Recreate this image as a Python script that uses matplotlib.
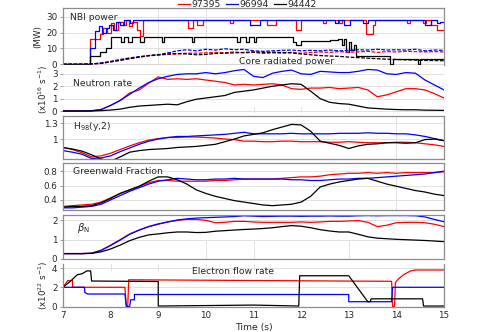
import numpy as np
import matplotlib
matplotlib.use('Agg')
import matplotlib.pyplot as plt

# =============================================================================
# DATA
# =============================================================================

shots = ['97395', '96994', '94442']
colors = ['#ff0000', '#0000ff', '#000000']

# common time base for the smooth traces (s)
t_grid = [7.0, 7.2, 7.4, 7.6, 7.8, 8.0, 8.2, 8.4, 8.6, 8.8, 9.0, 9.2, 9.4, 9.6, 9.8,
          10.0, 10.2, 10.4, 10.6, 10.8, 11.0, 11.2, 11.4, 11.6, 11.8, 12.0, 12.2, 12.4,
          12.6, 12.8, 13.0, 13.2, 13.4, 13.6, 13.8, 14.0, 14.2, 14.4, 14.6, 14.8, 15.0]

# NBI power (MW), step traces
nbi_t_97395 = [7.0, 7.57, 7.78, 7.85, 7.92, 8.0, 8.08, 8.15, 8.25, 8.32, 8.38, 8.45, 8.55, 8.62,
               8.68, 9.63, 9.73, 9.82, 9.95, 10.5, 10.58, 11.28, 11.48, 11.9, 12.0, 12.45, 12.52,
               12.8, 12.85, 13.37, 13.5, 13.55, 14.22, 14.28, 14.55, 14.62, 14.72, 14.85, 15.0]
nbi_p_97395 = [0, 16, 19, 23, 20, 26, 22, 27, 25, 28, 24, 27, 22, 18,
               28, 23, 28, 25, 28, 26, 28, 25, 28, 22, 28, 26, 28,
               26, 28, 19, 25, 28, 26, 28, 26, 28, 25, 22, 22]
nbi_t_96994 = [7.0, 7.57, 7.68, 7.75, 7.82, 7.9, 7.97, 8.05, 8.12, 8.2, 8.28, 8.4, 8.48,
               10.93, 11.13, 12.72, 12.78, 12.9, 13.02, 13.3, 13.4, 14.6, 14.72, 14.85, 14.92, 15.0]
nbi_p_96994 = [0, 10, 21, 24, 20, 23, 25, 22, 27, 25, 28, 26, 28,
               25, 28, 26, 28, 25, 28, 26, 28, 25, 28, 26, 27, 27]
nbi_t_94442 = [7.0, 7.57, 7.78, 7.9, 8.0, 8.22, 8.28, 8.37, 8.45, 8.62, 8.7, 9.07, 9.12, 9.7,
               9.76, 10.65, 10.72, 10.84, 10.9, 11.0, 11.06, 11.83, 11.9, 12.0, 12.6, 12.78,
               12.86, 12.9, 12.95, 13.0, 13.05, 13.1, 13.15, 13.87, 13.93, 14.45, 14.5, 15.0]
nbi_p_94442 = [0, 5, 8, 10, 17, 14, 17, 14, 17, 14, 17, 14, 17, 14,
               17, 14, 17, 14, 17, 14, 17, 14, 12, 14.5, 15.5, 16,
               12, 16, 8, 14, 9, 12, 5.5, 0, 3, 0, 3, 3]

# core radiated power (MW), dashed
prad_97395 = [0, 0, 0, 0.1, 0.5, 1.5, 2.5, 3.5, 4.5, 5.3, 5.8, 6.2, 6.5, 7.0, 7.0,
              7.2, 7.5, 7.3, 7.8, 7.2, 7.5, 6.8, 7.2, 7.0, 7.5, 7.0, 7.4, 7.8,
              7.5, 8.0, 7.6, 7.8, 8.2, 7.5, 8.0, 7.8, 8.2, 8.0, 7.8, 8.0, 7.8]
prad_96994 = [0, 0, 0, 0.2, 0.8, 1.8, 3.0, 4.0, 4.8, 5.5, 6.0, 7.2, 8.5, 9.2, 8.5,
              9.5, 9.0, 9.8, 9.2, 9.5, 8.5, 8.2, 8.5, 8.8, 9.0, 8.5, 8.8, 8.5,
              9.0, 8.5, 8.8, 9.2, 9.0, 9.5, 9.0, 9.2, 9.0, 9.5, 8.5, 9.0, 8.8]
prad_94442 = [0, 0, 0, 0.2, 0.6, 1.5, 2.5, 3.6, 4.5, 5.5, 6.0, 6.5, 6.8, 6.5, 6.0,
              6.2, 6.8, 7.0, 7.2, 7.5, 7.8, 7.5, 7.6, 7.4, 7.2, 6.5, 6.0, 5.5,
              5.2, 5.0, 4.5, 4.2, 3.8, 3.5, 3.2, 3.0, 2.8, 2.6, 2.4, 2.3, 2.2]

# neutron rate (x1e16 /s)
neut_97395 = [0, 0, 0, 0.02, 0.12, 0.45, 0.85, 1.45, 1.7, 2.25, 2.75, 2.55, 2.6, 2.55, 2.6,
              2.5, 2.4, 2.3, 2.1, 2.15, 2.1, 2.15, 2.2, 2.1, 1.8, 1.75, 1.85, 1.85,
              1.9, 1.8, 1.85, 1.9, 1.7, 1.15, 1.3, 1.55, 1.8, 1.8, 1.7, 1.4, 1.05]
neut_96994 = [0, 0, 0, 0.02, 0.12, 0.45, 0.85, 1.35, 1.85, 2.3, 2.6, 2.8, 2.95, 3.0, 3.0,
              3.1, 3.0, 3.1, 3.25, 3.35, 2.8, 2.7, 3.05, 3.2, 3.3, 3.0, 2.95, 3.2,
              3.15, 3.1, 3.1, 3.2, 3.35, 3.3, 3.0, 2.95, 3.1, 3.05, 2.5, 2.1, 1.7]
neut_94442 = [0, 0, 0, 0, 0.03, 0.08, 0.15, 0.3, 0.4, 0.45, 0.5, 0.55, 0.5, 0.75, 0.95,
              1.05, 1.15, 1.25, 1.5, 1.6, 1.7, 1.85, 2.0, 2.1, 2.2, 2.15, 1.6, 1.0,
              0.7, 0.6, 0.55, 0.4, 0.25, 0.2, 0.15, 0.12, 0.1, 0.1, 0.07, 0.06, 0.05]

# H98(y,2)
h98_97395 = [0.84, 0.8, 0.74, 0.66, 0.68, 0.73, 0.8, 0.87, 0.93, 0.98, 1.01, 1.03, 1.03, 1.04, 1.04,
             1.03, 1.02, 1.0, 0.99, 0.96, 0.96, 0.95, 0.95, 0.96, 0.96, 0.95, 0.95, 0.95,
             0.94, 0.94, 0.95, 0.94, 0.93, 0.93, 0.93, 0.94, 0.94, 0.93, 0.91, 0.89, 0.86]
h98_96994 = [0.78, 0.75, 0.71, 0.63, 0.64, 0.68, 0.76, 0.83, 0.9, 0.96, 1.0, 1.03, 1.05, 1.05, 1.06,
             1.07, 1.08, 1.09, 1.11, 1.13, 1.1, 1.1, 1.1, 1.1, 1.11, 1.1, 1.1, 1.1,
             1.1, 1.11, 1.11, 1.11, 1.12, 1.11, 1.11, 1.1, 1.1, 1.08, 1.05, 1.01, 0.97]
h98_94442 = [0.84, 0.81, 0.77, 0.7, 0.62, 0.58, 0.66, 0.75, 0.78, 0.8, 0.81, 0.82, 0.84, 0.85, 0.86,
             0.88, 0.9, 0.95, 1.0, 1.06, 1.09, 1.12, 1.18, 1.23, 1.28, 1.27, 1.15, 0.96,
             0.92, 0.88, 0.82, 0.87, 0.9, 0.91, 0.93, 0.93, 0.92, 0.93, 0.99, 1.0, 0.97]

# Greenwald fraction
fgw_97395 = [0.31, 0.32, 0.33, 0.34, 0.37, 0.43, 0.49, 0.54, 0.59, 0.64, 0.67, 0.67, 0.66, 0.66, 0.66,
             0.66, 0.67, 0.67, 0.68, 0.69, 0.69, 0.69, 0.69, 0.70, 0.71, 0.72, 0.72, 0.73,
             0.75, 0.76, 0.77, 0.77, 0.78, 0.77, 0.78, 0.77, 0.78, 0.78, 0.78, 0.78, 0.79]
fgw_96994 = [0.29, 0.29, 0.30, 0.31, 0.34, 0.40, 0.46, 0.52, 0.57, 0.62, 0.66, 0.68, 0.70, 0.69, 0.68,
             0.68, 0.69, 0.69, 0.70, 0.69, 0.69, 0.69, 0.69, 0.69, 0.68, 0.68, 0.67, 0.67,
             0.68, 0.69, 0.69, 0.70, 0.70, 0.71, 0.72, 0.73, 0.74, 0.75, 0.76, 0.78, 0.80]
fgw_94442 = [0.30, 0.31, 0.31, 0.32, 0.36, 0.42, 0.49, 0.54, 0.59, 0.66, 0.72, 0.72, 0.68, 0.62, 0.54,
             0.49, 0.45, 0.42, 0.39, 0.37, 0.35, 0.33, 0.32, 0.33, 0.34, 0.37, 0.45, 0.58,
             0.62, 0.65, 0.67, 0.69, 0.70, 0.66, 0.62, 0.59, 0.56, 0.53, 0.51, 0.48, 0.46]

# normalised beta
betan_97395 = [0.28, 0.28, 0.28, 0.3, 0.45, 0.72, 1.0, 1.3, 1.5, 1.68, 1.8, 1.92, 2.0, 2.05, 2.05,
               2.0, 1.88, 1.9, 1.95, 1.95, 1.92, 1.9, 1.9, 1.9, 1.9, 1.92, 1.9, 1.92,
               1.95, 1.95, 1.97, 1.99, 1.9, 1.68, 1.75, 1.88, 1.9, 1.9, 1.88, 1.8, 1.68]
betan_96994 = [0.28, 0.28, 0.28, 0.3, 0.45, 0.7, 0.98, 1.28, 1.5, 1.68, 1.82, 1.92, 2.02, 2.08, 2.12,
               2.14, 2.16, 2.18, 2.2, 2.24, 2.22, 2.2, 2.21, 2.22, 2.22, 2.21, 2.22, 2.22,
               2.23, 2.22, 2.22, 2.24, 2.25, 2.24, 2.25, 2.25, 2.25, 2.24, 2.18, 2.05, 1.93]
betan_94442 = [0.28, 0.28, 0.28, 0.29, 0.37, 0.52, 0.72, 0.95, 1.12, 1.25, 1.3, 1.36, 1.4, 1.4, 1.37,
               1.38, 1.44, 1.47, 1.5, 1.53, 1.55, 1.58, 1.62, 1.68, 1.73, 1.7, 1.62, 1.52,
               1.45, 1.4, 1.4, 1.28, 1.15, 1.08, 1.05, 1.02, 1.0, 0.98, 0.96, 0.93, 0.9]

# electron flow rate (x1e22 /s)
flow_t_97395 = [7.0, 7.1, 7.2, 7.2, 8.3, 8.33, 8.36, 8.38, 13.9, 13.92, 13.96, 13.98, 14.05, 14.15, 14.3, 14.4, 15.0]
flow_v_97395 = [2.0, 2.7, 2.7, 2.0, 2.0, 0.1, 0.1, 2.78, 2.62, 0.0, 0.0, 2.5, 2.9, 3.3, 3.7, 3.8, 3.8]
flow_t_96994 = [7.0, 7.45, 7.46, 7.52, 8.3, 8.33, 8.4, 8.42, 8.5, 8.5, 13.0, 13.0, 13.9, 13.92, 15.0]
flow_v_96994 = [2.0, 2.0, 1.45, 1.3, 1.3, 0.0, 0.0, 0.7, 0.7, 1.25, 1.25, 0.5, 0.5, 2.0, 2.0]
flow_t_94442 = [7.0, 7.15, 7.3, 7.4, 7.45, 7.5, 7.58, 7.6, 9.0, 9.0, 10.0, 11.0, 11.5, 11.95,
                11.97, 13.0, 13.4, 13.45, 13.47, 14.55, 14.57, 15.0]
flow_v_94442 = [2.0, 2.6, 3.3, 3.4, 3.55, 3.7, 3.7, 2.65, 2.6, 0.05, 0.1, 0.15, 0.1, 0.05,
                3.2, 3.2, 0.5, 0.5, 0.8, 0.8, 0.05, 0.05]

# =============================================================================
# PLOTTING
# =============================================================================

W, H = 490, 332
FS = 5.7
TXT = '#262626'
SPINE = '#8c8c8c'
GRID = '#dcdcdc'

plt.rcParams['font.family'] = ['DejaVu Sans']
plt.rcParams['mathtext.fontset'] = 'dejavusans'


def px_axes(fig, top, bottom, left=63, right=444):
    return fig.add_axes([left / W, 1 - bottom / H, (right - left) / W, (bottom - top) / H])


def style(ax, ylim, yticks, ylabels=None, spines=('left', 'right', 'top', 'bottom')):
    ax.set_xlim(7, 15)
    ax.set_ylim(*ylim)
    ax.set_yticks(yticks)
    if ylabels is not None:
        ax.set_yticklabels(ylabels)
    ax.set_xticks(range(7, 16))
    ax.tick_params(axis='y', direction='out', length=2.5, width=0.6, color=SPINE,
                   labelsize=FS + 0.6, labelcolor=TXT, pad=1.5)
    ax.tick_params(axis='x', length=0, labelbottom=False, labelsize=FS + 0.6, labelcolor=TXT)
    for name, sp in ax.spines.items():
        sp.set_color(SPINE)
        sp.set_linewidth(0.9)
        sp.set_visible(name in spines)
    ax.grid(axis='y', color=GRID, lw=0.6)
    ax.set_axisbelow(True)


fig = plt.figure(figsize=(W / 100, H / 100), dpi=100)

ax1 = px_axes(fig, 8, 65)
ax2 = px_axes(fig, 65, 113)
ax3 = px_axes(fig, 116, 159)
ax4 = px_axes(fig, 163, 210)
ax5 = px_axes(fig, 215, 259)
ax6 = px_axes(fig, 264, 307)

lw = 0.9

# --- NBI power and core radiated power ---
handles = []
for tt, pp, c, lab in zip([nbi_t_97395, nbi_t_96994, nbi_t_94442],
                          [nbi_p_97395, nbi_p_96994, nbi_p_94442], colors, shots):
    h, = ax1.plot(tt, pp, color=c, lw=lw, drawstyle='steps-post', label=lab)
    handles.append(h)
for pr, c in zip([prad_97395, prad_96994, prad_94442], colors):
    ax1.plot(t_grid, pr, color=c, lw=lw, ls=(0, (3, 1.2)))
style(ax1, (-0.5, 35.7), [0, 10, 20, 30])
ax1.set_ylabel('(MW)', fontsize=FS + 0.6, color=TXT, labelpad=3)
ax1.text(7.15, 29.5, 'NBI power', fontsize=FS + 1, color=TXT, va='center')
ax1.text(10.7, 2.0, 'Core radiated power', fontsize=FS + 1, color=TXT, va='center')
for xv in (9, 10):
    ax1.axvline(xv, color=GRID, lw=0.6, zorder=0)

# --- neutron rate ---
for yy, c in zip([neut_97395, neut_96994, neut_94442], colors):
    ax2.plot(t_grid, yy, color=c, lw=lw)
style(ax2, (-0.16, 3.71), [0, 1, 2, 3], spines=())
ax2.set_ylabel('(x10$^{16}$ s$^{-1}$)', fontsize=FS + 0.6, color=TXT, labelpad=1)
ax2.text(7.2, 2.2, 'Neutron rate', fontsize=FS + 1, color=TXT, va='center')
for xv in (11, 12, 13):
    ax2.axvline(xv, ymax=0.12, color=GRID, lw=0.6, zorder=0)

# --- H98 ---
for yy, c in zip([h98_97395, h98_96994, h98_94442], colors):
    ax3.plot(t_grid, yy, color=c, lw=lw)
style(ax3, (0.62, 1.44), [1, 1.3], ['1', '1.3'])
ax3.text(7.2, 1.24, 'H$_{98}$(y,2)', fontsize=FS + 1, color=TXT, va='center')
ax3.axvline(14, color=GRID, lw=0.6, zorder=0)

# --- Greenwald fraction ---
for yy, c in zip([fgw_97395, fgw_96994, fgw_94442], colors):
    ax4.plot(t_grid, yy, color=c, lw=lw)
style(ax4, (0.26, 0.913), [0.4, 0.6, 0.8], ['0.4', '0.6', '0.8'])
ax4.text(7.2, 0.8, 'Greenwald Fraction', fontsize=FS + 1, color=TXT, va='center')
ax4.axvline(14, color=GRID, lw=0.6, zorder=0)

# --- beta_N ---
for yy, c in zip([betan_97395, betan_96994, betan_94442], colors):
    ax5.plot(t_grid, yy, color=c, lw=lw)
style(ax5, (0, 2.28), [0, 1, 2])
ax5.text(7.3, 1.6, r'$\beta_{\mathrm{N}}$', fontsize=FS + 1.5, color=TXT, va='center')
for xv in (10, 11, 13):
    ax5.axvline(xv, ymax=0.4, color=GRID, lw=0.6, zorder=0)

# --- electron flow rate ---
for tt, vv, c in zip([flow_t_97395, flow_t_96994, flow_t_94442],
                     [flow_v_97395, flow_v_96994, flow_v_94442], colors):
    ax6.plot(tt, vv, color=c, lw=lw)
style(ax6, (-0.05, 4.42), [0, 2, 4], spines=('left', 'right', 'bottom'))
ax6.tick_params(axis='x', labelbottom=True, pad=3)
ax6.set_ylabel('(x10$^{22}$ s$^{-1}$)', fontsize=FS + 0.6, color=TXT, labelpad=1)
ax6.set_xlabel('Time (s)', fontsize=FS + 1, color=TXT, labelpad=2)
ax6.text(9.7, 3.6, 'Electron flow rate', fontsize=FS + 1, color=TXT, va='center')
for xv in (8, 9, 10, 11):
    ax6.axvline(xv, ymin=0.85, color=GRID, lw=0.6, zorder=0)

fig.legend(handles=handles, labels=shots, loc='upper center', bbox_to_anchor=(0.505, 1.0),
           ncol=3, frameon=False, fontsize=FS + 1, handlelength=1.3, handletextpad=0.2,
           columnspacing=0.5, labelcolor=TXT, borderaxespad=0, borderpad=0.05)

fig.savefig('out.png', dpi=100)
